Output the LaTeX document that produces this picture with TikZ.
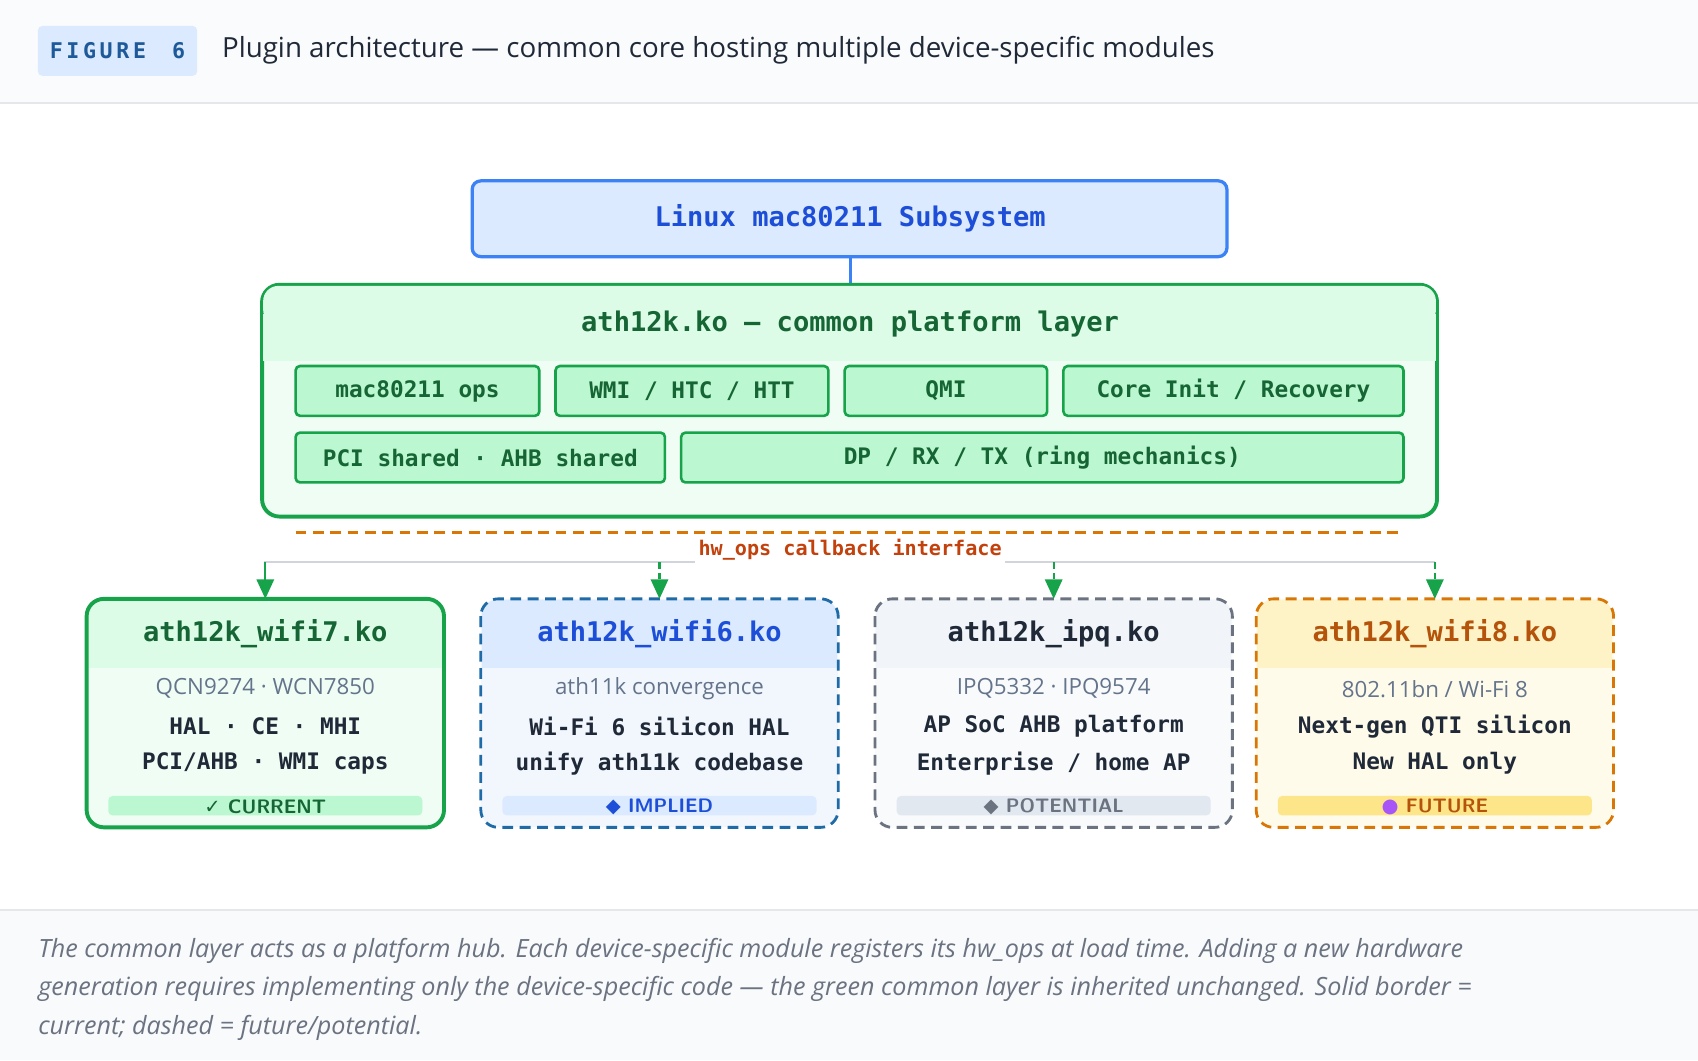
\documentclass[tikz,border=0pt]{standalone}
\usepackage{fontspec}
\setmainfont{Open Sans}
\setmonofont{DejaVu Sans Mono}
\newfontfamily\symf{DejaVu Sans}
\usetikzlibrary{arrows.meta}
\definecolor{gdark}{HTML}{166534}
\definecolor{gline}{HTML}{16A34A}
\definecolor{gfill}{HTML}{F0FDF4}
\definecolor{ghead}{HTML}{DCFCE7}
\definecolor{gin}{HTML}{BBF7D0}
\definecolor{bline}{HTML}{3B82F6}
\definecolor{bfill}{HTML}{DBEAFE}
\definecolor{btext}{HTML}{1D4ED8}
\definecolor{bdash}{HTML}{1E6BA8}
\definecolor{bbody}{HTML}{F2F7FE}
\definecolor{grline}{HTML}{6B7280}
\definecolor{grhead}{HTML}{F1F4F8}
\definecolor{grbody}{HTML}{F9FAFB}
\definecolor{grbadge}{HTML}{E2E8F0}
\definecolor{oline}{HTML}{D97706}
\definecolor{otext}{HTML}{B45309}
\definecolor{ohead}{HTML}{FEF3C7}
\definecolor{obody}{HTML}{FFFBEB}
\definecolor{obadge}{HTML}{FDE68A}
\definecolor{txt}{HTML}{1F2937}
\definecolor{sub}{HTML}{64748B}
\definecolor{hdrbg}{HTML}{FAFBFC}
\definecolor{rule}{HTML}{E5E7EB}
\definecolor{figtxt}{HTML}{1E5A99}
\definecolor{ifacetxt}{HTML}{C2410C}
\definecolor{hline}{HTML}{D1D5DB}
\definecolor{capbg}{HTML}{F8FAFC}
\definecolor{captxt}{HTML}{6B7280}
\definecolor{purple}{HTML}{A855F7}
\begin{document}
\begin{tikzpicture}[x=0.5pt,y=-0.5pt,
  inner/.style={draw=gline,line width=1.2pt,fill=gin,rounded corners=2pt,font=\ttfamily\bfseries\fontsize{10.5}{12}\selectfont,text=gdark,minimum height=23pt,inner sep=0pt},
  ttl/.style={font=\ttfamily\bfseries\fontsize{12.5}{14}\selectfont},
  subt/.style={font=\fontsize{10.3}{12}\selectfont,text=sub},
  body/.style={font=\ttfamily\bfseries\fontsize{10.5}{12}\selectfont,text=txt},
  badge/.style={font=\sffamily\bfseries\fontsize{9}{10}\selectfont},
  dsh/.style={line width=1.3pt,dash pattern=on 5pt off 3pt,rounded corners=8pt},
  arr/.style={-{Triangle[length=9pt,width=8pt]},line width=1pt,gline}]
\useasboundingbox (0,0) rectangle (1568,979);
\fill[white] (0,0) rectangle (1568,979);
\fill[hdrbg] (0,0) rectangle (1568,95);
\draw[rule,line width=1pt] (0,95) -- (1568,95);
\fill[bfill,rounded corners=2pt] (35,24) rectangle (182,70);
\node[font=\ttfamily\bfseries\fontsize{10}{12}\selectfont,text=figtxt] (fig) at (108.5,47) {F\,I\,G\,U\,R\,E\ \ 6};
\node[anchor=west,font=\fontsize{12.8}{14}\selectfont,text=txt] (title) at (198,46) {Plugin architecture — common core hosting multiple device-specific modules};

% linux box
\draw[bline,line width=1.5pt,fill=bfill,rounded corners=4pt] (436,167) rectangle (1133,237);
\node[ttl,text=btext] (linux) at (785,202) {Linux mac80211 Subsystem};
\coordinate (lbot) at (785,237);
\coordinate (gtop) at (785,263);
\draw[bline,line width=1.3pt] (lbot) -- (gtop);

% common layer
\draw[gline,line width=1.8pt,fill=gfill,rounded corners=8pt] (242,263) rectangle (1327,477);
\fill[ghead,rounded corners=7pt] (243,264) rectangle (1326,300);
\fill[ghead] (243,290) rectangle (1326,333);
\node[ttl,text=gdark] (common) at (785,299) {ath12k.ko — common platform layer};
\node[inner,minimum width=112.5pt] (m1) at (385.5,361) {mac80211 ops};
\node[inner,minimum width=126pt] (m2) at (639,361) {WMI / HTC / HTT};
\node[inner,minimum width=93.5pt] (m3) at (873.5,361) {QMI};
\node[inner,minimum width=157pt] (m4) at (1139,361) {Core Init / Recovery};
\node[inner,minimum width=170.5pt] (m5) at (443.5,422.5) {PCI shared · AHB shared};
\node[inner,minimum width=333.5pt] (m6) at (962.5,422.5) {DP / RX / TX (ring mechanics)};

% interface
\coordinate (d1) at (273,492); \coordinate (d2) at (1296,492);
\draw[oline,line width=1.2pt,dash pattern=on 5pt off 3pt] (d1) -- (d2);
\coordinate (h1) at (244,519); \coordinate (h2) at (1325,519);
\draw[hline,line width=1pt] (h1) -- (h2);
\node[font=\ttfamily\bfseries\fontsize{9.3}{10}\selectfont,text=ifacetxt,fill=white,inner sep=1.5pt] (iface) at (785,508) {hw\_ops callback interface};

% modules backgrounds
\foreach \x/\bc/\hc/\bg in {80/gfill/ghead/gin,444/bbody/bfill/bfill,808/grbody/grhead/grbadge,1160/obody/ohead/obadge}{
  \fill[\bc,rounded corners=8pt] (\x,553) rectangle (\x+330,764);
  \fill[\hc,rounded corners=7pt] (\x+1,554) rectangle (\x+329,600);
  \fill[\hc] (\x+1,590) rectangle (\x+329,617);
  \fill[\bg,rounded corners=2pt] (\x+20,735) rectangle (\x+310,753);
}
\draw[gline,line width=1.8pt,rounded corners=8pt] (80,553) rectangle (410,764);
\draw[bdash,dsh] (444,553) rectangle (774,764);
\draw[grline,dsh] (808,553) rectangle (1138,764);
\draw[oline,dsh] (1160,553) rectangle (1490,764);

\node[ttl,text=gdark] (a7) at (245,585) {ath12k\_wifi7.ko};
\node[ttl,text=btext] (a6) at (609,585) {ath12k\_wifi6.ko};
\node[ttl,text=txt] (aq) at (973,585) {ath12k\_ipq.ko};
\node[ttl,text=otext] (a8) at (1325,585) {ath12k\_wifi8.ko};
\node[subt] (a7s) at (245,636) {QCN9274 · WCN7850};
\node[body] (a7b) at (245,671) {HAL · CE · MHI};
\node[body] (a7c) at (245,705) {PCI/AHB · WMI caps};
\node[badge,text=gdark] (a7d) at (245,745) {{\symf ✓} CURRENT};
\node[subt] (a6s) at (609,636) {ath11k convergence};
\node[body] (a6b) at (609,671) {Wi-Fi 6 silicon HAL};
\node[body] (a6c) at (609,705) {unify ath11k codebase};
\node[badge,text=btext] (a6d) at (609,745) {{\symf ◆} IMPLIED};
\node[subt] (aqs) at (973,636) {IPQ5332 · IPQ9574};
\node[body] (aqb) at (973,671) {AP SoC AHB platform};
\node[body] (aqc) at (973,705) {Enterprise / home AP};
\node[badge,text=grline] (aqd) at (973,745) {{\symf ◆} POTENTIAL};
\node[subt] (a8s) at (1325,636) {802.11bn / Wi-Fi 8};
\node[body] (a8b) at (1325,671) {Next-gen QTI silicon};
\node[body] (a8c) at (1325,705) {New HAL only};
\node[badge,text=otext] (a8d) at (1325,745) {{\symf\color{purple}●} FUTURE};

\coordinate (s1) at (245,519); \coordinate (s2) at (609,519); \coordinate (s3) at (973,519); \coordinate (s4) at (1325,519);
\coordinate (e1) at (245,553); \coordinate (e2) at (609,553); \coordinate (e3) at (973,553); \coordinate (e4) at (1325,553);
\draw[arr] (s1) -- (e1);
\draw[arr,dash pattern=on 3pt off 2pt] (s2) -- (e2);
\draw[arr,dash pattern=on 3pt off 2pt] (s3) -- (e3);
\draw[arr,dash pattern=on 3pt off 2pt] (s4) -- (e4);

% caption
\fill[capbg] (0,840) rectangle (1568,979);
\draw[rule,line width=1pt] (0,840) -- (1568,840);
\node[anchor=north west,align=left,font=\itshape\fontsize{11.6}{17.7}\selectfont,text=captxt,inner sep=0pt] (cap) at (35,866) {The common layer acts as a platform hub. Each device-specific module registers its hw\_ops at load time. Adding a new hardware\\ generation requires implementing only the device-specific code — the green common layer is inherited unchanged. Solid border =\\ current; dashed = future/potential.};
\end{tikzpicture}
\end{document}
